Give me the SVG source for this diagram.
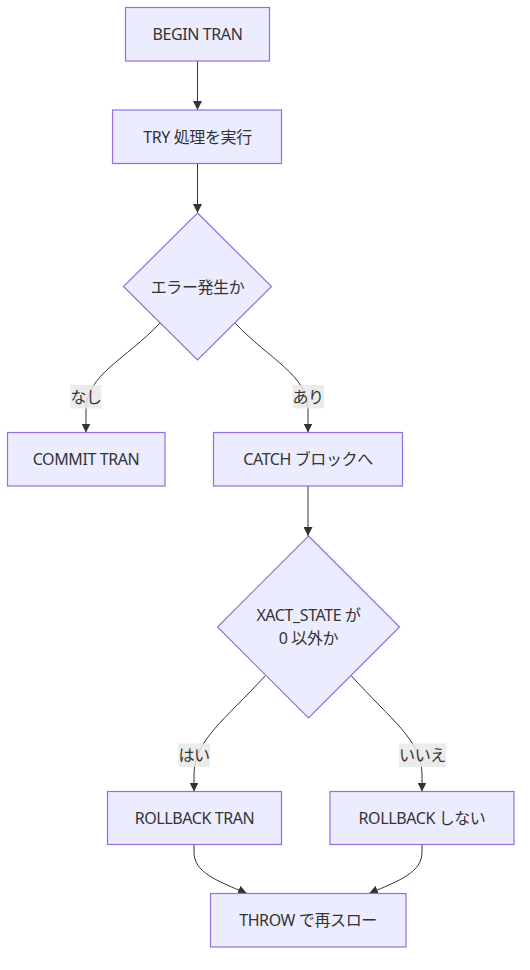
<svg xmlns="http://www.w3.org/2000/svg" width="530" height="970" viewBox="0 0 530 970">
<style>
.node rect,.node polygon{fill:#ECECFF;stroke:#9370DB;stroke-width:1.2}
text{font-family:"Noto Sans","Noto Sans CJK JP",sans-serif;font-size:16px;letter-spacing:-0.4px;fill:#333;text-anchor:middle;dominant-baseline:central}
.edge{fill:none;stroke:#333;stroke-width:1}
.lbl rect{fill:#e8e8e8;opacity:0.85}
</style>
<defs>
<marker id="arr" viewBox="0 0 10 10" refX="10" refY="5" markerWidth="9" markerHeight="9" markerUnits="userSpaceOnUse" orient="auto">
<path d="M0,0 L10,5 L0,10 z" fill="#333"/>
</marker>
</defs>
<rect width="530" height="970" fill="#fff"/>
<g id="edges">
<path class="edge" d="M197.5,61 L197.5,110" marker-end="url(#arr)"/>
<path class="edge" d="M197.5,163.5 L197.5,213" marker-end="url(#arr)"/>
<path class="edge" d="M160,323 C125,360 86,375 86,410 L86,432.5" marker-end="url(#arr)"/>
<path class="edge" d="M235,323 C270,360 308,375 308,410 L308,432.5" marker-end="url(#arr)"/>
<path class="edge" d="M308,486 L308,536" marker-end="url(#arr)"/>
<path class="edge" d="M265,676 C225,720 194,740 194,775 L194,791.5" marker-end="url(#arr)"/>
<path class="edge" d="M351.5,676 C391,720 422,740 422,775 L422,791.5" marker-end="url(#arr)"/>
<path class="edge" d="M194,844.5 L194,852 C194,872 215,880 247,893.5" marker-end="url(#arr)"/>
<path class="edge" d="M422,844.5 L422,852 C422,872 401,880 369,893.5" marker-end="url(#arr)"/>
</g>
<g id="edge-labels">
<g class="lbl"><rect x="70.5" y="385" width="31" height="23.5"/><text x="86" y="396.5">なし</text></g>
<g class="lbl"><rect x="292.5" y="385" width="31.5" height="23.5"/><text x="308" y="396.5">あり</text></g>
<g class="lbl"><rect x="178.5" y="743.5" width="31.5" height="23.5"/><text x="194" y="755">はい</text></g>
<g class="lbl"><rect x="399" y="743.5" width="47" height="23.5"/><text x="422.5" y="755">いいえ</text></g>
</g>
<g id="begin" class="node"><rect x="125.5" y="7.5" width="144" height="53.5"/><text x="197.5" y="34">BEGIN TRAN</text></g>
<g id="try" class="node"><rect x="112.5" y="110" width="169" height="53.5"/><text x="197.5" y="136.5">TRY 処理を実行</text></g>
<g id="err" class="node"><polygon points="197.5,213 271.5,286.5 197.5,360 123.5,286.5"/><text x="197.5" y="286.5">エラー発生か</text></g>
<g id="commit" class="node"><rect x="7.5" y="432.5" width="157.5" height="53.5"/><text x="86" y="459">COMMIT TRAN</text></g>
<g id="catch" class="node"><rect x="213.5" y="432.5" width="189" height="53.5"/><text x="308" y="459">CATCH ブロックへ</text></g>
<g id="xact" class="node"><polygon points="308.5,536 399.5,627 308.5,718 217.5,627"/><text x="308.5" y="615">XACT_STATE が</text><text x="308.5" y="638">0 以外か</text></g>
<g id="rollback" class="node"><rect x="107.5" y="791.5" width="174" height="53"/><text x="194.5" y="818">ROLLBACK TRAN</text></g>
<g id="norollback" class="node"><rect x="330" y="791.5" width="184" height="53"/><text x="422" y="818">ROLLBACK しない</text></g>
<g id="throw" class="node"><rect x="210.5" y="893.5" width="195.5" height="53.5"/><text x="308" y="920">THROW で再スロー</text></g>
</svg>
